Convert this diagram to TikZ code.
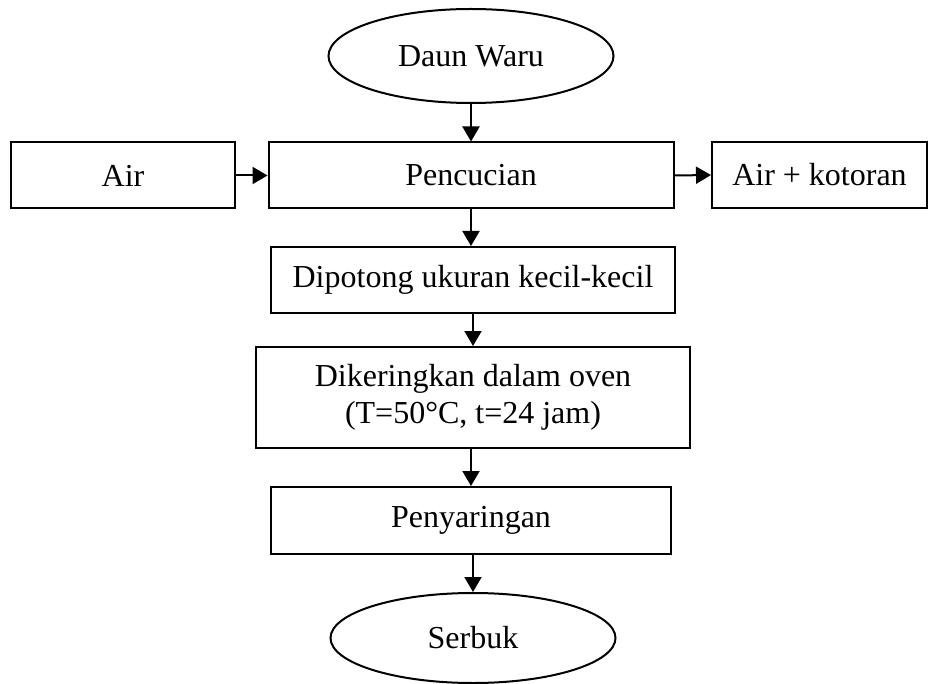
\documentclass[tikz,border=0pt]{standalone}
\usepackage{fontspec}
\setmainfont{Liberation Serif}
\usetikzlibrary{arrows.meta,shapes.geometric}
\begin{document}
\begin{tikzpicture}[x=1pt,y=-1pt,
  every node/.style={font=\fontsize{32}{37}\selectfont},
  box/.style={draw,line width=2pt,rectangle,inner sep=0pt,align=center},
  oval/.style={draw,line width=2pt,ellipse,inner sep=0pt},
  arr/.style={line width=2pt,-{Triangle[width=17pt,length=15pt]}}]
\useasboundingbox (0,0) rectangle (928,684);
\node[oval,minimum width=285pt,minimum height=94pt] (daun) at (471,56) {Daun Waru};
\node[box,minimum width=405pt,minimum height=66pt] (cuci) at (471,175.5) {Pencucian};
\node[box,minimum width=224pt,minimum height=66pt] (air) at (123,175.5) {Air};
\node[box,minimum width=215pt,minimum height=66pt] (kotor) at (819.5,175) {Air + kotoran};
\node[box,minimum width=404pt,minimum height=66pt] (potong) at (473,280) {Dipotong ukuran kecil-kecil};
\node[box,minimum width=434pt,minimum height=101pt] (kering) at (473,397.5) {Dikeringkan dalam oven\\(T=50°C, t=24 jam)};
\node[box,minimum width=400pt,minimum height=67pt] (saring) at (471,520.5) {Penyaringan};
\node[oval,minimum width=285pt,minimum height=90pt] (serbuk) at (473,638) {Serbuk};
\draw[arr] (daun.south) -- (cuci.north);
\draw[arr] (air.east) -- (cuci.west);
\draw[arr] (cuci.east) -- (kotor.west);
\draw[arr] (cuci.south) -- (cuci.south |- potong.north);
\draw[arr] (potong.south) -- (kering.north);
\draw[arr] (kering.south -| saring.north) -- (saring.north);
\draw[arr] (saring.south -| serbuk.north) -- (serbuk.north);
\end{tikzpicture}
\end{document}
